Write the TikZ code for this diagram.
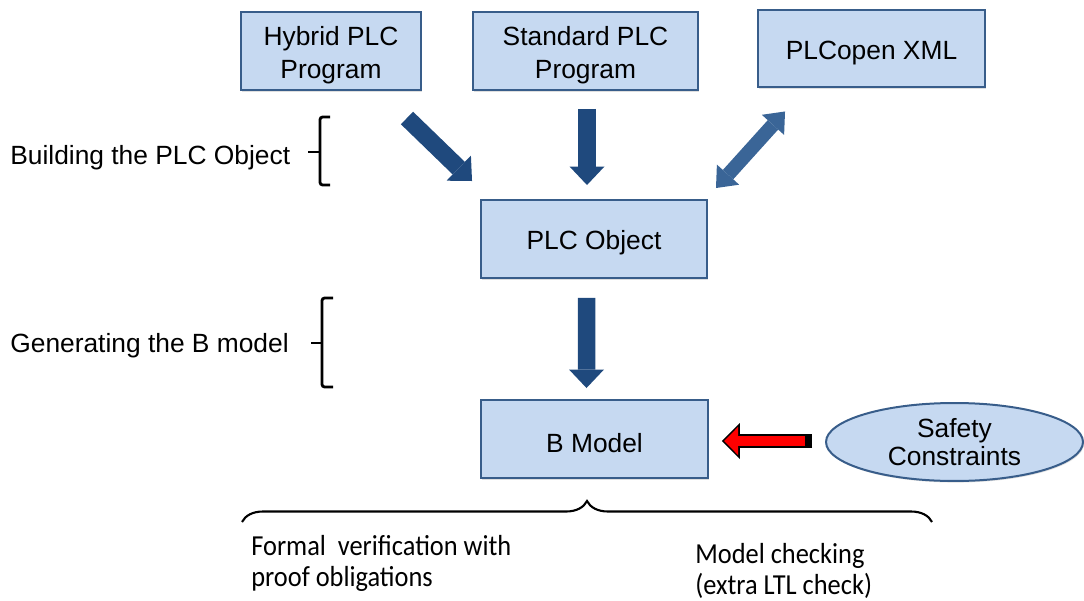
\documentclass[tikz,border=0pt]{standalone}
\usepackage{fontspec}
\setmainfont{Liberation Sans}
\newfontfamily\calibri{Carlito}[FakeStretch=0.91]
\usepackage{tikz}
\usetikzlibrary{arrows.meta,positioning,shapes.geometric,calc,shadows,decorations.pathreplacing}
\usepackage{xcolor}
\definecolor{boxfill}{RGB}{198,217,241}
\definecolor{boxline}{RGB}{56,93,138}
\definecolor{arrdark}{RGB}{31,73,125}
\definecolor{arrlight}{RGB}{58,101,151}
\newcommand{\tstrut}{\rule{0pt}{15.5pt}}
\newcommand{\notefont}{\calibri\fontsize{16.5}{17.6}\selectfont}

\begin{document}
\begin{tikzpicture}[
    x=0.02cm, y=-0.02cm,
    box/.style={rectangle, draw=boxline, line width=0.04cm, fill=boxfill,
      minimum height=1.56cm, align=center, font=\fontsize{15}{18.5}\selectfont,
      drop shadow={shadow xshift=0.6pt, shadow yshift=-0.9pt, opacity=0.25}},
    oval/.style={ellipse, draw=boxline, line width=0.04cm, fill=boxfill,
      minimum width=5.14cm, minimum height=1.56cm, align=center, inner sep=0pt,
      font=\fontsize{15}{15.5}\selectfont,
      drop shadow={shadow xshift=0.6pt, shadow yshift=-0.9pt, opacity=0.25}},
    lbl/.style={font=\fontsize{15}{18}\selectfont, inner sep=0pt},
    note/.style={font=\notefont, align=left, inner sep=0pt},
    blk/.style={draw=arrdark, line width=0.35cm,
      -{Triangle[length=0.37cm, width=0.7cm, line width=0pt]}},
    dbl/.style={draw=arrlight, line width=0.28cm,
      {Triangle[length=0.36cm, width=0.6cm, line width=0pt]}-{Triangle[length=0.36cm, width=0.6cm, line width=0pt]}},
    redout/.style={draw=black, line width=0.28cm,
      -{Triangle[length=0.36cm, width=0.72cm, line width=0pt]}},
    redin/.style={draw=red, line width=0.21cm,
      -{Triangle[length=0.28cm, width=0.57cm, line width=0pt]}},
    brk/.style={line width=1.6pt, rounded corners=1.5pt},
    brc/.style={decorate, decoration={brace, amplitude=#1}, line width=1.2pt}
  ]
  \useasboundingbox (0,0) rectangle (1084,601);

  %% ---- boxes ----
  \node[box, minimum width=3.6cm]  (hyb)  at (331,51)    {\tstrut Hybrid PLC\\Program};
  \node[box, minimum width=4.5cm]  (std)  at (585.5,51)  {\tstrut Standard PLC\\Program};
  \node[box, minimum width=4.54cm] (pxml) at (871.5,48.5) {\tstrut PLCopen XML};
  \node[box, minimum width=4.52cm] (plc)  at (594,239)   {\tstrut PLC Object};
  \node[box, minimum width=4.54cm] (bmod) at (594.5,439) {\tstrut B Model};
  \node[oval] (safe) at (954.5,442) {Safety\\Constraints};

  %% ---- block arrows ----
  \draw[blk] ($(hyb.south east)+(-15,27)$) -- ($(plc.north west)+(-8,-18)$);
  \draw[blk] ($(std.south)+(1.5,18)$) -- ($(std.south |- plc.north)+(1.5,-14)$);
  \draw[dbl] ($(plc.north east)+(8,-11)$) -- ($(pxml.south west)+(28,23)$);
  \draw[blk] ($(plc.south)+(-7.5,19)$) -- ($(bmod.north)+(-8,-11)$);

  %% red arrow (outline first, then fill)
  \draw[redout] ($(safe.west)+(-13,-1)$) -- ($(bmod.east |- safe.west)+(13,-1)$);
  \draw[redin]  ($(safe.west)+(-20,-1)$) -- ($(bmod.east |- safe.west)+(15.2,-1)$);

  %% ---- phase labels ----
  \node[lbl, anchor=west] (bld) at (10,158) {Building the PLC Object};
  \node[lbl, anchor=west] (gen) at (10,346) {Generating the B model};
  \draw[brk] (330,117) -- (320,117) -- (320,185) -- (330,185);
  \draw[brk] (308,152) -- (320,152);
  \draw[brk] (333,298) -- (322,298) -- (322,387) -- (333,387);
  \draw[brk] (311,343) -- (322,343);

  %% ---- verification ----
  \draw[brc=0.42cm] (242,522) -- (932,522);
  \node[note, anchor=north west] (fv) at (251,535.5)
    {Formal\ \ verification with\\proof obligations};
  \node[note, anchor=north west] (mc) at (695,543.5)
    {Model checking\\(extra LTL check)};

\end{tikzpicture}
\end{document}
